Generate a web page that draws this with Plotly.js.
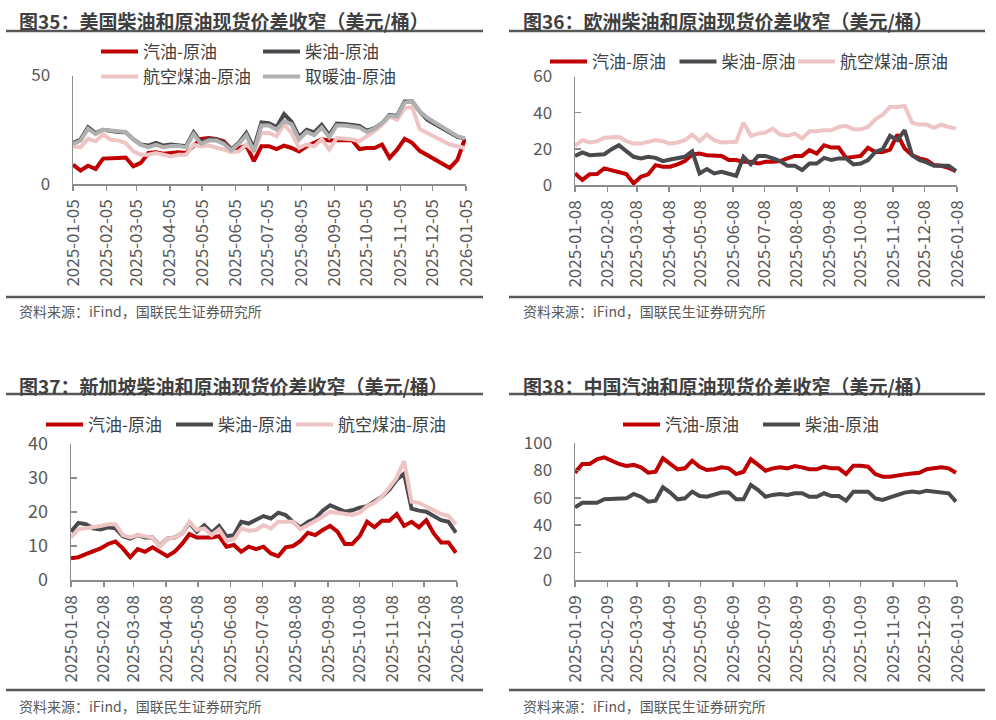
<!DOCTYPE html>
<html>
<head>
<meta charset="utf-8">
<script src="https://cdn.plot.ly/plotly-3.0.1.min.js"></script>
<style>html,body{margin:0;padding:0;background:#fff;}#chart{width:996px;height:720px;}</style>
</head>
<body>
<div id="chart"></div>
<script>
// ---------- data ----------
const titles = [
  '图35：美国柴油和原油现货价差收窄（美元/桶）',
  '图36：欧洲柴油和原油现货价差收窄（美元/桶）',
  '图37：新加坡柴油和原油现货价差收窄（美元/桶）',
  '图38：中国汽油和原油现货价差收窄（美元/桶）'
];
const sourceText = '资料来源：iFind，国联民生证券研究所';
const seriesNames = ['汽油-原油', '柴油-原油', '航空煤油-原油', '取暖油-原油'];

const start1 = '2025-01-05', start2 = '2025-01-08', start3 = '2025-01-08', start4 = '2025-01-09';
const ticks1 = ['2025-01-05','2025-02-05','2025-03-05','2025-04-05','2025-05-05','2025-06-05','2025-07-05','2025-08-05','2025-09-05','2025-10-05','2025-11-05','2025-12-05','2026-01-05'];
const ticks2 = ['2025-01-08','2025-02-08','2025-03-08','2025-04-08','2025-05-08','2025-06-08','2025-07-08','2025-08-08','2025-09-08','2025-10-08','2025-11-08','2025-12-08','2026-01-08'];
const ticks3 = ticks2;
const ticks4 = ['2025-01-09','2025-02-09','2025-03-09','2025-04-09','2025-05-09','2025-06-09','2025-07-09','2025-08-09','2025-09-09','2025-10-09','2025-11-09','2025-12-09','2026-01-09'];

// 图35 美国
const us_gasoline = [8.9,6.2,8.4,6.9,11.7,11.7,12,12.2,8.2,9.7,14.3,14.6,14,14.3,14.6,14.3,17.5,20.8,21.2,20.8,19.7,16.1,16.6,17.7,10.5,17.4,17.4,16.1,17.7,16.6,15,17.4,19,20.6,20.1,20.3,20.3,20.3,16.1,16.6,16.6,18.2,12,15.8,20.8,19,15.3,13.4,11.6,9.7,7.4,11.1,20.8];
const us_diesel = [18.9,20.5,26.2,23.5,25,24.3,24,23.8,20.6,18.2,17.7,19,17.7,18.2,17.7,17.4,23.8,19,20.8,20.6,19,15.9,19,23.5,16.6,28.4,28,26.2,32.2,28.7,21.7,25,23.8,27.3,22.5,27.8,27.6,27.2,26.8,24.6,25.7,28,31.9,31.4,38,38,33.4,29.6,27.6,25.3,23.5,21.7,20.9];
const us_jet = [17.3,17,20.8,19.7,22.8,20.4,20.1,18.8,15,13.5,13.5,14.3,13.5,12.7,13.5,13.5,18.2,17.3,17.7,17,15.9,14.6,15,18.2,15,23.5,23.5,22,27.3,23.5,16.6,18.2,17.4,20.6,15.9,21.2,20.8,20.6,19.7,22,24.3,27.3,31,29.6,35,35.4,25.3,23.5,21.7,19.7,18.2,17.4,16.6];
const us_heating = [18.5,20,25.5,23,25,24.5,24.3,24,20.5,18,17,18,17,17.5,17.5,17,23,18.5,20,20,18.5,15.5,18.5,22.5,15,27,27,25,29,27.5,20.5,24,22.5,26,21.5,27,27,26.5,26,24,25.5,28,31.5,31,37.5,38,33.5,30.5,28.5,26.5,24,22,21];

// 图36 欧洲
const eu_gasoline = [6.4,2.8,5.9,6.1,9.2,8.3,7.3,6.1,0.9,4.6,5.9,11,10.1,10.1,11.4,13.2,16.9,17.4,16.5,16.1,16.1,13.8,13.8,12.8,12.8,11.9,12.8,12.8,13.2,14.7,16.1,16.1,19.3,17.4,22,20.7,20.7,15,15.6,16.1,20.6,18.3,18.3,19.6,27.9,20.2,16.5,14.7,13.8,11,10.6,9.5,7.7];
const eu_diesel = [16,18,16.5,16.9,17,19.8,22,18.7,15.6,14.7,15.6,15,13.2,14.1,14.7,15.6,18.7,6.4,8.8,6.4,7.3,6.4,5.1,15.6,11.4,16.1,16.1,14.7,13.2,10.6,10.6,8.3,11.9,11.9,15,13.8,14.7,14.7,11.4,11.9,13.8,18.3,19.8,27.2,24.8,30.3,16.5,13.8,12.5,10.6,10.6,10.6,7.7];
const eu_jet = [21.7,24.8,23.5,24.2,26.1,26.1,26.6,24.2,22.9,22.9,23.9,24.8,24.2,22.9,23.5,24.8,27.9,24.2,27.9,24.8,23.5,23.5,23.9,34.5,27.2,28.4,29,31.2,27.9,27.2,28.4,25.7,29.7,29.7,30.3,30.3,32.1,32.7,30.8,30.8,32.1,36.3,38.9,43.1,43.1,43.7,34.5,33.4,33.4,31.6,33.4,32.1,31.2];

// 图37 新加坡
const sg_gasoline = [6.4,6.7,7.6,8.3,9.3,10.6,11.3,9.3,6.7,9.1,8.3,9.6,8.3,7,8.3,10.6,13.5,12.5,12.5,12.5,12.9,9.8,10.3,8.3,9.8,9.1,9.8,7.8,7,9.6,10,11.5,13.9,13.2,14.7,15.9,14.2,10.6,10.6,12.9,17.1,15.5,17.4,17.4,19.4,15.9,17.1,15.5,17.6,13.7,11,11,8];
const sg_diesel = [14.2,16.8,16.4,15.2,14.9,15.5,15.2,12.9,12.2,13.2,12.5,12.5,10,12.2,12.5,13.7,16.8,14.2,16.1,13.9,15.9,12.9,13.2,17.1,16.6,17.6,18.8,18.1,19.8,19.1,17.1,15.5,17.1,18.1,20.4,22,21,20.1,20.5,21.3,21.7,23,24.5,26.6,29.5,31.3,21,20.4,20.1,18.8,17.6,17.1,13.9];
const sg_jet = [12.5,14.9,15.2,15.5,15.9,16.4,16.4,13.2,12.5,13.2,12.7,12.5,9.8,12.2,12.5,13.7,17.1,14.7,15.2,13.2,14.9,11.5,11.9,15.2,14.5,14.7,16.1,15.2,17.1,17.1,17.1,14.9,16.1,17.1,18.6,20.1,19.8,19.4,19.1,19.8,21.7,22.7,24.5,27.2,30.1,35,23,22.7,21.7,20.5,19.4,18.8,16.4];

// 图38 中国
const cn_gasoline = [78.3,84.7,84.7,88.1,89.5,87.1,84.7,83.2,84,82.2,78.3,79,88.8,84.7,80.8,81.5,87.1,82.7,80.3,80.8,82.2,81.5,77.3,79,88.1,84,79.8,81.5,82.2,81.5,83.2,82.2,80.8,80.8,82.7,81.5,81.5,77.3,83.4,83.4,82.7,77.3,75.4,75.4,75.9,77.1,77.8,78.3,80.8,81.5,82.2,81.5,78.3];
const cn_diesel = [53,56.4,56.4,56.4,58.9,58.9,58.9,59.6,62.8,60.8,57.2,57.9,67.7,63.8,58.9,59.6,64.5,61.3,60.8,62.1,63.8,63.8,58.9,58.9,69.4,65.7,60.8,62.1,62.8,62.1,63.3,63.3,60.8,60.8,63.3,61.3,61.3,57.9,64.5,64.5,64.5,59.6,58.4,60.3,62.1,63.8,64.5,63.8,65.2,64.5,63.8,63.3,57.2];

// ---------- helpers ----------
function weekly(startStr, n) {
  const out = [];
  const d0 = new Date(startStr + 'T00:00:00Z');
  for (let i = 0; i < n; i++) {
    const d = new Date(d0.getTime() + i * 7 * 86400000);
    out.push(d.toISOString().slice(0, 10));
  }
  return out;
}
const x1 = weekly(start1, us_gasoline.length);
const x2 = weekly(start2, eu_gasoline.length);
const x3 = weekly(start3, sg_gasoline.length);
const x4 = weekly(start4, cn_gasoline.length);

const RED = '#c00000', DARK = '#4a4a4e', PINK = '#efc4c4', GRAY = '#b0b0b0';
const FONT = '"Noto Sans CJK SC", "Noto Sans", sans-serif';
const LW = 4;

function tr(x, y, name, color, xa, ya, leg) {
  return {type: 'scatter', mode: 'lines', x: x, y: y, name: name,
    line: {color: color, width: LW}, xaxis: xa, yaxis: ya, legend: leg, hoverinfo: 'skip'};
}

const traces = [
  tr(x1, us_gasoline, seriesNames[0], RED, 'x', 'y', 'legend'),
  tr(x1, us_diesel, seriesNames[1], DARK, 'x', 'y', 'legend'),
  tr(x1, us_jet, seriesNames[2], PINK, 'x', 'y', 'legend5'),
  tr(x1, us_heating, seriesNames[3], GRAY, 'x', 'y', 'legend5'),
  tr(x2, eu_gasoline, seriesNames[0], RED, 'x2', 'y2', 'legend2'),
  tr(x2, eu_diesel, seriesNames[1], DARK, 'x2', 'y2', 'legend2'),
  tr(x2, eu_jet, seriesNames[2], PINK, 'x2', 'y2', 'legend6'),
  tr(x3, sg_gasoline, seriesNames[0], RED, 'x3', 'y3', 'legend3'),
  tr(x3, sg_diesel, seriesNames[1], DARK, 'x3', 'y3', 'legend3'),
  tr(x3, sg_jet, seriesNames[2], PINK, 'x3', 'y3', 'legend7'),
  tr(x4, cn_gasoline, seriesNames[0], RED, 'x4', 'y4', 'legend4'),
  tr(x4, cn_diesel, seriesNames[1], DARK, 'x4', 'y4', 'legend4')
];

const W = 996, H = 720;
const px = v => v / W;
const py = v => 1 - v / H;

function xax(x0, x1p, ya, ticks) {
  return {domain: [px(x0), px(x1p)], anchor: ya, type: 'date',
    range: [ticks[0], ticks[ticks.length - 1]], tickvals: ticks, tickformat: '%Y-%m-%d',
    tickangle: -90, showgrid: false, zeroline: false, showline: true, linecolor: '#8c8c8c', linewidth: 1.5,
    ticks: 'outside', ticklen: 5, tickwidth: 1.5, tickcolor: '#8c8c8c', ticklabelstandoff: 2,
    tickfont: {family: FONT, size: 17, color: '#595959'}, fixedrange: true};
}
function yax(ytop, ybot, xa, range, dtick, fs) {
  return {domain: [py(ybot), py(ytop)], anchor: xa, range: range, dtick: dtick, tick0: 0,
    showgrid: false, zeroline: false, showline: true, linecolor: '#8c8c8c', linewidth: 1.5,
    ticks: 'inside', ticklen: 6, tickwidth: 1.5, tickcolor: '#8c8c8c', ticklabelstandoff: 18,
    tickfont: {family: FONT, size: fs, color: '#595959'}, fixedrange: true};
}

function legendAt(xp, yp, ew) {
  return {orientation: 'h', x: px(xp), y: py(yp), xanchor: 'left', yanchor: 'middle',
    bgcolor: 'rgba(0,0,0,0)', borderwidth: 0, entrywidth: ew, entrywidthmode: 'pixels',
    itemwidth: 37, font: {family: FONT, size: 17, color: '#404040'}, tracegroupgap: 0,
    itemclick: false, itemdoubleclick: false};
}

const annotations = [];
const shapes = [];
const decos = [
  {title: titles[0], tx: 17, ty: 20, lx0: 6, lx1: 483, top: 31, bot: 297, srcY: 311},
  {title: titles[1], tx: 521, ty: 20, lx0: 509, lx1: 985, top: 31, bot: 297, srcY: 311},
  {title: titles[2], tx: 17, ty: 385, lx0: 6, lx1: 483, top: 394, bot: 690, srcY: 706},
  {title: titles[3], tx: 521, ty: 385, lx0: 509, lx1: 985, top: 394, bot: 690, srcY: 706}
];
decos.forEach(d => {
  annotations.push({xref: 'paper', yref: 'paper', x: px(d.tx), y: py(d.ty), xanchor: 'left', yanchor: 'middle',
    text: '<b>' + d.title + '</b>', showarrow: false, font: {family: FONT, size: 19, color: '#404040'}});
  annotations.push({xref: 'paper', yref: 'paper', x: px(d.tx), y: py(d.srcY), xanchor: 'left', yanchor: 'middle',
    text: sourceText, showarrow: false, font: {family: FONT, size: 14, color: '#595959'}});
  shapes.push({type: 'line', xref: 'paper', yref: 'paper', x0: px(d.lx0), x1: px(d.lx1), y0: py(d.top), y1: py(d.top),
    line: {color: '#595959', width: 2.5}});
  shapes.push({type: 'line', xref: 'paper', yref: 'paper', x0: px(d.lx0), x1: px(d.lx1), y0: py(d.bot), y1: py(d.bot),
    line: {color: '#595959', width: 2.5}});
});

const layout = {
  width: W, height: H, margin: {l: 0, r: 0, t: 0, b: 0},
  paper_bgcolor: '#ffffff', plot_bgcolor: 'rgba(0,0,0,0)',
  font: {family: FONT, color: '#404040'},
  showlegend: true,
  xaxis: xax(73, 466, 'y', ticks1),
  yaxis: yax(75.5, 184, 'x', [0, 50], 50, 17),
  xaxis2: xax(575, 957, 'y2', ticks2),
  yaxis2: yax(76.5, 185, 'x2', [0, 60], 20, 17),
  xaxis3: xax(71, 457, 'y3', ticks3),
  yaxis3: yax(444, 580, 'x3', [0, 40], 10, 18),
  xaxis4: xax(575, 957, 'y4', ticks4),
  yaxis4: yax(443, 580, 'x4', [0, 100], 20, 17),
  legend: legendAt(96, 52, 110),
  legend5: legendAt(96, 77, 110),
  legend2: legendAt(545, 62, 77.5),
  legend6: legendAt(793, 62, 0),
  legend3: legendAt(41, 425, 78),
  legend7: legendAt(291, 425, 0),
  legend4: legendAt(618, 425, 88),
  annotations: annotations,
  shapes: shapes
};

Plotly.newPlot('chart', traces, layout, {displayModeBar: false, staticPlot: true});
</script>
</body>
</html>
